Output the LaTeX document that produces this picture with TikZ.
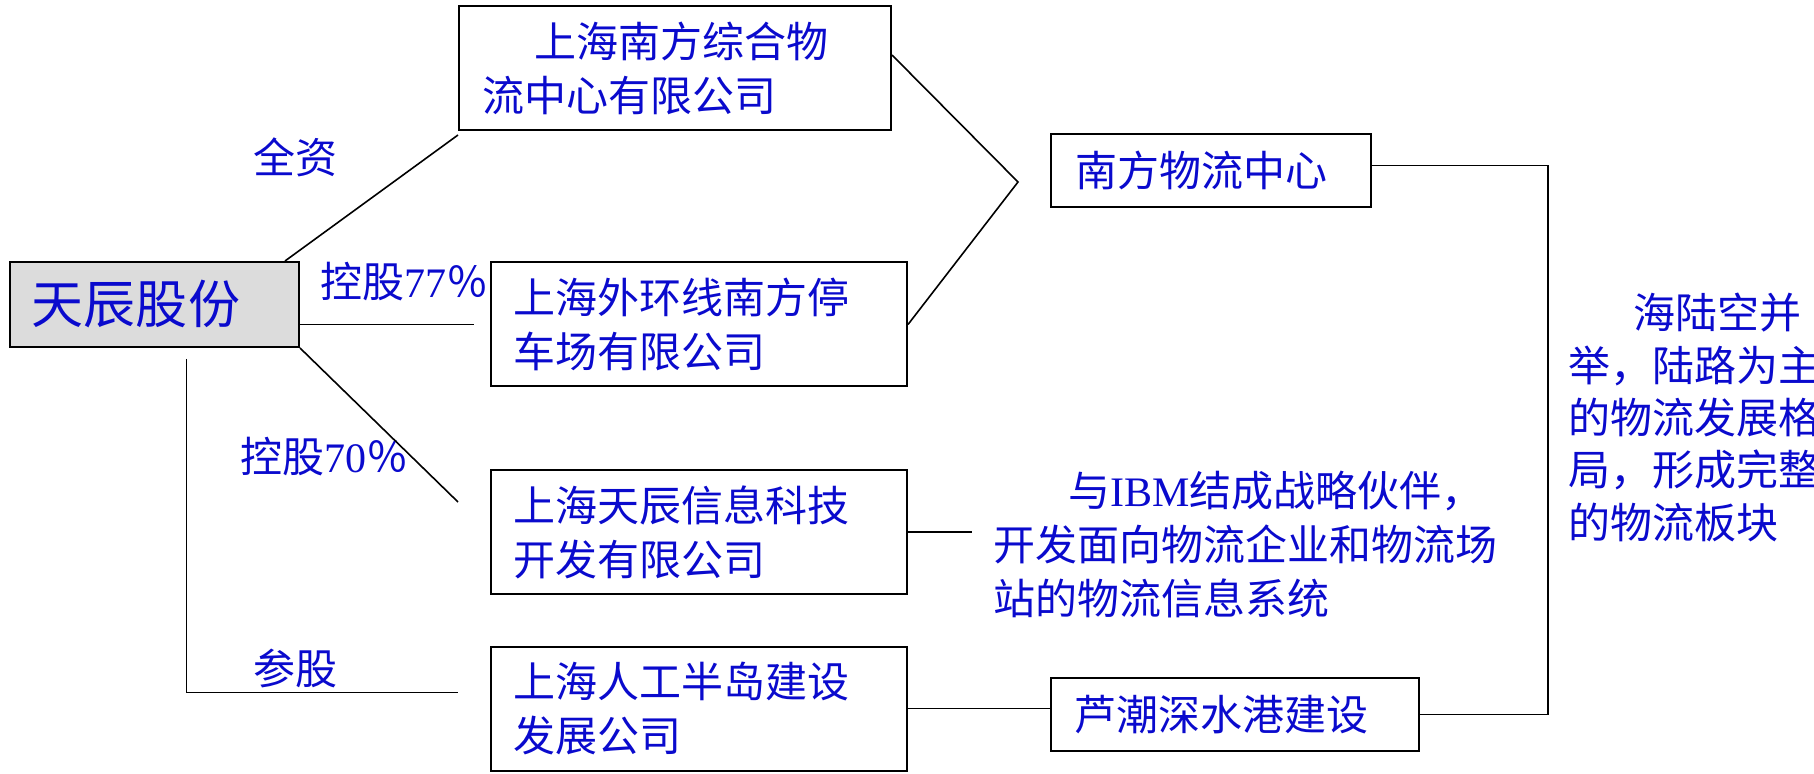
\documentclass[tikz,border=0pt]{standalone}
\usepackage{fontspec}
\setmainfont{Liberation Serif}
\newfontfamily\cjkfont{Noto Sans CJK SC}
\usetikzlibrary{positioning}
\definecolor{txtblue}{RGB}{10,10,205}
\definecolor{boxgray}{RGB}{220,220,220}

\begin{document}
\begin{tikzpicture}[
  x=0.5pt, y=-0.5pt,
  txt/.style={font=\cjkfont\fontsize{21pt}{27pt}\selectfont, text=txtblue},
  firm/.style={txt, draw, line width=1pt, align=left, inner ysep=0pt,
               inner xsep=11pt, text width=186pt,
               minimum width=208pt, minimum height=62pt},
  topco/.style={firm, fill=boxgray, font=\cjkfont\fontsize{26pt}{30pt}\selectfont,
                text width=122.5pt, minimum width=144.5pt, minimum height=42.5pt},
  seg/.style={firm, inner xsep=12pt, text width=136pt,
              minimum width=160pt, minimum height=36.5pt},
  note/.style={txt, align=left, inner sep=0pt},
  lbl/.style={txt, inner sep=0pt},
  link/.style={line width=0.8pt}
]
\useasboundingbox (0,0) rectangle (1814,774);

%% ── holding company and subsidiaries ──
\node[topco] (tc)   at (154.5,304.5) {天辰股份};
\node[firm, inner xsep=11.5pt, text width=193pt, minimum width=216pt]
             (nfzh) at (675,68)    {\hspace*{26pt}上海南方综合物\\流中心有限公司};
\node[firm]  (whx)  at (699,324.5) {上海外环线南方停\\车场有限公司};
\node[firm]  (tcxx) at (699,532)   {上海天辰信息科技\\开发有限公司};
\node[firm]  (rgbd) at (699,708.5) {上海人工半岛建设\\发展公司};

%% ── business segments ──
\node[seg]   (nfwl) at (1211,170.5) {南方物流中心};
\node[seg, inner xsep=11.5pt, text width=161pt, minimum width=184pt]
             (lcg)  at (1235,714.5) {芦潮深水港建设};

%% ── notes ──
\node[note, anchor=west] (ibm) at (993,545)
  {\hspace*{37.5pt}与\textrm{IBM}结成战略伙伴，\\开发面向物流企业和物流场\\站的物流信息系统};
\node[note, anchor=west, font=\cjkfont\fontsize{21pt}{26.2pt}\selectfont] (geju) at (1568,417.5)
  {\hspace*{32.5pt}海陆空并\\举，陆路为主\\的物流发展格\\局，形成完整\\的物流板块};

% share labels
\node[lbl]               (l_qz) at (295.5,157) {全资};
\node[lbl, anchor=west]  (l_77) at (320,282)   {控股\textrm{77}％};
\node[lbl, anchor=west]  (l_70) at (240,457)   {控股\textrm{70}％};
\node[lbl]               (l_cg) at (295.5,668) {参股};

%% ── connectors ──
\coordinate (join) at (1018,182);
\draw[link] ([xshift=-7.5pt]tc.north east) -- ([yshift=-2pt]nfzh.south west);
\draw[link] (tc.east |- whx.west) -- ([xshift=-8pt]whx.west);
\draw[link] (tc.south east) -- ([xshift=-16pt,yshift=15pt]tcxx.west);
\draw[link] ([xshift=16pt,yshift=-5.5pt]tc.south) |- ([xshift=-16pt,yshift=8pt]rgbd.west);
% two companies feed the logistics centre
\draw[link] ([yshift=6.5pt]nfzh.east) -- (join) -- (whx.east);
\draw[link] (tcxx.east) -- ([xshift=-10.5pt]tcxx.east -| ibm.west);
\draw[link] (rgbd.east) -- (rgbd.east -| lcg.west);
% both segments make up the logistics plate
\draw[link] ([yshift=2.5pt]nfwl.east) -- ++(176,0) |- (lcg.east);

\end{tikzpicture}
\end{document}
